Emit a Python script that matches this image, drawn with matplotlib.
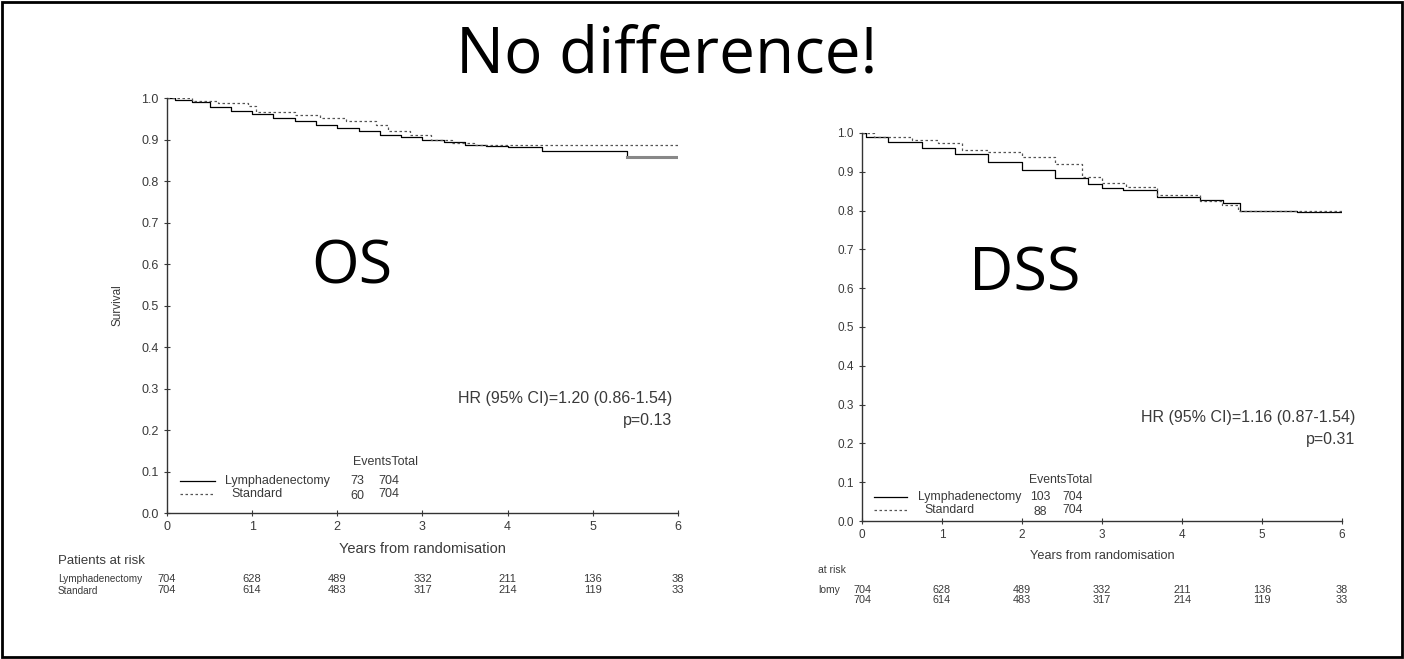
import matplotlib
matplotlib.use('Agg')
import matplotlib.pyplot as plt
from matplotlib.transforms import blended_transform_factory
from matplotlib.patches import Rectangle

# ---- data ----
years = [0, 1, 2, 3, 4, 5, 6]
surv_ticks = [0.0, 0.1, 0.2, 0.3, 0.4, 0.5, 0.6, 0.7, 0.8, 0.9, 1.0]

# OS curves (step change points)
os_lymph_t = [0, 0.1, 0.3, 0.5, 0.75, 1.0, 1.25, 1.5, 1.75, 2.0, 2.25, 2.5, 2.75, 3.0, 3.25, 3.5, 3.75, 4.0, 4.4, 5.4, 6.0]
os_lymph_s = [1.0, 0.995, 0.99, 0.978, 0.97, 0.962, 0.952, 0.944, 0.936, 0.928, 0.92, 0.912, 0.905, 0.898, 0.893, 0.887, 0.884, 0.883, 0.873, 0.857, 0.857]
os_std_t = [0, 0.3, 0.6, 0.95, 1.05, 1.5, 1.8, 2.1, 2.45, 2.6, 2.85, 3.1, 3.35, 3.6, 4.0, 6.0]
os_std_s = [1.0, 0.992, 0.987, 0.981, 0.966, 0.96, 0.953, 0.945, 0.935, 0.92, 0.911, 0.9, 0.892, 0.886, 0.886, 0.886]

# DSS curves
dss_lymph_t = [0, 0.05, 0.33, 0.75, 1.16, 1.58, 2.0, 2.41, 2.83, 3.0, 3.26, 3.69, 4.22, 4.51, 4.72, 5.44, 6.0]
dss_lymph_s = [1.0, 0.99, 0.978, 0.962, 0.945, 0.926, 0.905, 0.885, 0.868, 0.858, 0.853, 0.834, 0.827, 0.819, 0.80, 0.796, 0.796]
dss_std_t = [0, 0.15, 0.63, 0.95, 1.25, 1.58, 2.0, 2.41, 2.75, 3.0, 3.3, 3.69, 4.22, 4.5, 4.7, 6.0]
dss_std_s = [1.0, 0.99, 0.982, 0.974, 0.956, 0.95, 0.939, 0.919, 0.887, 0.871, 0.86, 0.84, 0.826, 0.815, 0.80, 0.797]

# numbers at risk
risk_lymph = [704, 628, 489, 332, 211, 136, 38]
risk_std = [704, 614, 483, 317, 214, 119, 33]

groups = ['Lymphadenectomy', 'Standard']
os_events = ['73', '60']
dss_events = ['103', '88']
totals = ['704', '704']

small = 'Liberation Sans'
big = 'Open Sans'
grey = '#3a3a3a'

fig = plt.figure(figsize=(14.04, 6.59), dpi=100)
fig.patch.set_facecolor('white')

# slide border
fig.patches.append(Rectangle((0.0015, 0.003), 0.997, 0.994, transform=fig.transFigure,
                             fill=False, edgecolor='black', linewidth=2))

fig.text(0.475, 0.916, 'No difference!', fontsize=46, family=big, ha='center', va='center')


def km_panel(ax, lt, ls, st, ss, events, hr, p, big_label, big_xy, leg, hr_pos, fs):
    ax.step(lt, ls, where='post', color='black', linewidth=0.9)
    ax.step(st, ss, where='post', color='#555555', linewidth=0.9, linestyle=(0, (2, 2)))
    ax.set_xlim(0, 6)
    ax.set_ylim(0, 1.0)
    ax.set_xticks(years)
    ax.set_yticks(surv_ticks)
    ax.set_yticklabels(['%.1f' % v for v in surv_ticks])
    for s in ['top', 'right']:
        ax.spines[s].set_visible(False)
    for s in ['left', 'bottom']:
        ax.spines[s].set_linewidth(1.0)
        ax.spines[s].set_color('#333333')
    ax.tick_params(direction='inout', length=5, width=0.8, labelsize=fs['tick'], colors=grey)
    for lab in ax.get_xticklabels() + ax.get_yticklabels():
        lab.set_family(small)
    ax.set_xlabel('Years from randomisation', fontsize=fs['xlabel'], family=small, color=grey, labelpad=6)
    ax.patch.set_alpha(0)

    ax.text(big_xy[0], big_xy[1], big_label, fontsize=44, family=big, ha='center', va='center')
    ax.text(hr_pos[2], hr_pos[0], hr, fontsize=11.5, family=small, ha='right', va='center', color=grey)
    ax.text(hr_pos[2], hr_pos[1], p, fontsize=11.5, family=small, ha='right', va='center', color=grey)

    hx, hy, r1, r2, lx0, lx1, tx, ex, nx = leg
    lf = fs['legend']
    ax.text(hx, hy, 'EventsTotal', fontsize=lf, family=small, ha='center', va='center', color=grey)
    ax.plot([lx0, lx1], [r1, r1], color='black', linewidth=0.9)
    ax.plot([lx0, lx1], [r2, r2], color='#555555', linewidth=0.9, linestyle=(0, (2, 2)))
    ax.text(tx, r1, groups[0], fontsize=lf, family=small, ha='left', va='center', color=grey)
    ax.text(tx + 0.08, r2, groups[1], fontsize=lf, family=small, ha='left', va='center', color=grey)
    for i, r in enumerate([r1, r2]):
        ax.text(ex, r - 0.004 * i, events[i], fontsize=lf, family=small, ha='center', va='center', color=grey)
        ax.text(nx, r, totals[i], fontsize=lf, family=small, ha='center', va='center', color=grey)


# left panel: OS
ax1 = fig.add_axes([0.1189, 0.2215, 0.364, 0.6297])
km_panel(ax1, os_lymph_t, os_lymph_s, os_std_t, os_std_s, os_events,
         'HR (95% CI)=1.20 (0.86-1.54)', 'p=0.13', 'OS', (2.17, 0.592),
         (2.57, 0.123, 0.077, 0.045, 0.15, 0.56, 0.68, 2.23, 2.6), (0.277, 0.224, 5.93),
         {'tick': 9, 'xlabel': 10.5, 'legend': 9})
# last step of the lymphadenectomy curve drawn grey and heavier, as in the slide
ax1.plot(os_lymph_t[-2:], os_lymph_s[-2:], color='#888888', linewidth=2.2)
ax1.set_ylabel('Survival', fontsize=8.5, family=small, color=grey, labelpad=13)

# right panel: DSS
ax2 = fig.add_axes([0.614, 0.2094, 0.3419, 0.5888])
km_panel(ax2, dss_lymph_t, dss_lymph_s, dss_std_t, dss_std_s, dss_events,
         'HR (95% CI)=1.16 (0.87-1.54)', 'p=0.31', 'DSS', (2.03, 0.635),
         (2.48, 0.106, 0.062, 0.028, 0.15, 0.56, 0.70, 2.23, 2.63), (0.268, 0.209, 6.16),
         {'tick': 8.5, 'xlabel': 9.2, 'legend': 8.8})

# numbers at risk tables
tr1 = blended_transform_factory(ax1.transData, fig.transFigure)
fig.text(0.0413, 0.1487, 'Patients at risk', fontsize=9.5, family=small, va='center', color=grey)
fig.text(0.0413, 0.1214, groups[0], fontsize=7.2, family=small, va='center', color=grey)
fig.text(0.0413, 0.1032, groups[1], fontsize=7.2, family=small, va='center', color=grey)
for x, a, b in zip(years, risk_lymph, risk_std):
    ax1.text(x, 0.1214, str(a), transform=tr1, fontsize=8, family=small, ha='center', va='center', color=grey)
    ax1.text(x, 0.1050, str(b), transform=tr1, fontsize=8, family=small, ha='center', va='center', color=grey)

tr2 = blended_transform_factory(ax2.transData, fig.transFigure)
fig.text(0.5826, 0.135, 'at risk', fontsize=7.5, family=small, va='center', color=grey)
fig.text(0.5826, 0.1040, 'lomy', fontsize=7.5, family=small, va='center', color=grey)
for x, a, b in zip(years, risk_lymph, risk_std):
    ax2.text(x, 0.1040, str(a), transform=tr2, fontsize=7.8, family=small, ha='center', va='center', color=grey)
    ax2.text(x, 0.0890, str(b), transform=tr2, fontsize=7.8, family=small, ha='center', va='center', color=grey)

plt.savefig('out.png', dpi=100)
